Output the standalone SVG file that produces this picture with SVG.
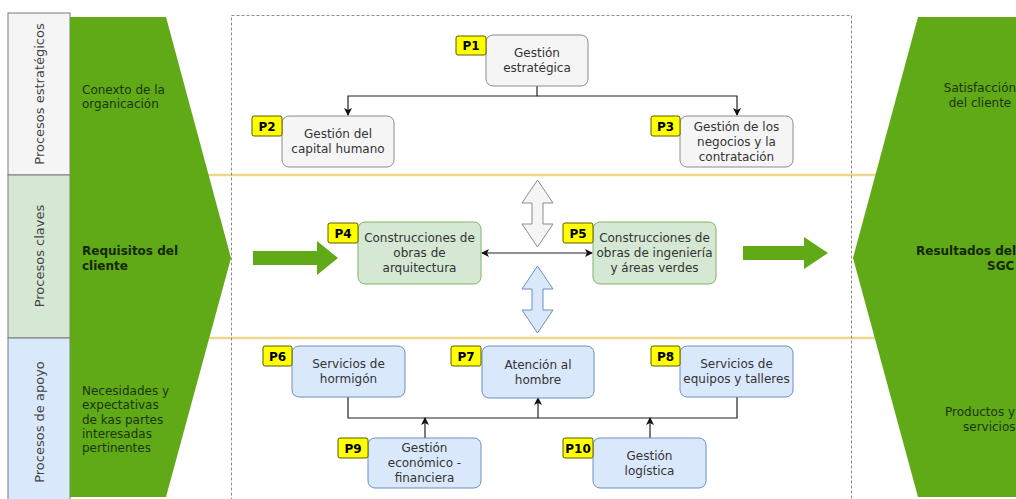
<svg xmlns="http://www.w3.org/2000/svg" width="1016" height="499" viewBox="0 0 1016 499">
<style>
text{font-family:"DejaVu Sans",Verdana,sans-serif;font-size:12px}
.lane{stroke:#7a7a7a;stroke-width:1}
.lanet{font-size:13px;fill:#444;text-anchor:middle}
.gt{fill:#1c3508}
.gtb{fill:#142805;font-weight:bold}
.box{stroke-width:1}
.grey{fill:#f5f5f5;stroke:#8c8c8c}
.green{fill:#d5e8d4;stroke:#82b366}
.blue{fill:#dae8fc;stroke:#6c8ebf}
.bt{fill:#333;text-anchor:middle}
.badge{fill:#ffff00;stroke:#5c5c00;stroke-width:1}
.badget{font-weight:bold;fill:#000;text-anchor:middle}
.conn{fill:none;stroke:#222;stroke-width:1.2}
.ylw{stroke:#eed68a;stroke-width:2.5}
</style>
<defs>
<marker id="ah" markerWidth="8" markerHeight="8" refX="7" refY="4" orient="auto" markerUnits="userSpaceOnUse">
<path d="M0,0 L8,4 L0,8 L2,4 Z" fill="#111"/>
</marker>
<marker id="ahs" markerWidth="8" markerHeight="8" refX="1" refY="4" orient="auto" markerUnits="userSpaceOnUse">
<path d="M8,0 L0,4 L8,8 L6,4 Z" fill="#111"/>
</marker>
</defs>
<rect width="1016" height="499" fill="#ffffff"/>
<g id="lanes">
<line class="ylw" x1="70" y1="175" x2="1016" y2="175"/>
<line class="ylw" x1="70" y1="338" x2="1016" y2="338"/>
<rect class="lane" x="8" y="13" width="62" height="162" fill="#f5f5f5"/>
<rect class="lane" x="8" y="175" width="62" height="163" fill="#d5e8d4"/>
<rect class="lane" x="8" y="338" width="62" height="162" fill="#dae8fc"/>
<text class="lanet" transform="translate(44,94) rotate(-90)">Procesos estratégicos</text>
<text class="lanet" transform="translate(44,256) rotate(-90)">Procesos claves</text>
<text class="lanet" transform="translate(44,422) rotate(-90)">Procesos de apoyo</text>
</g>
<rect x="231.5" y="15.5" width="620" height="500" fill="none" stroke="#8c8c8c" stroke-width="1" stroke-dasharray="3 2"/>
<g id="left-input">
<polygon points="70,17 166,17 231,258 166,497 70,497" fill="#60a917"/>
<text class="gt" x="82" y="94">Conexto de la</text>
<text class="gt" x="82" y="108">organicación</text>
<text class="gtb" x="82" y="255">Requisitos del</text>
<text class="gtb" x="82" y="270">cliente</text>
<text class="gt" x="82" y="395">Necesidades y</text>
<text class="gt" x="82" y="409">expectativas</text>
<text class="gt" x="82" y="424">de kas partes</text>
<text class="gt" x="82" y="438">interesadas</text>
<text class="gt" x="82" y="452">pertinentes</text>
</g>
<g id="right-output">
<polygon points="918,17 1016,17 1016,497 918,497 853,258" fill="#60a917"/>
<text class="gt" x="980" y="92" text-anchor="middle">Satisfacción</text>
<text class="gt" x="980" y="107" text-anchor="middle">del cliente</text>
<text class="gtb" x="916" y="255">Resultados del</text>
<text class="gtb" x="987" y="270">SGC</text>
<text class="gt" x="945" y="416">Productos y</text>
<text class="gt" x="963" y="431">servicios</text>
</g>
<g id="big-arrows">
<polygon points="253,251 317,251 317,241 338,258 317,275 317,265 253,265" fill="#60a917"/>
<polygon points="743,246 804,246 804,237 828,253 804,269 804,260 743,260" fill="#60a917"/>
<polygon points="537.5,180 553,203 543,203 543,224 553,224 537.5,247 522,224 532,224 532,203 522,203" fill="#f5f5f5" stroke="#8c8c8c" stroke-width="1"/>
<polygon points="537.5,266 553,289 543,289 543,310 553,310 537.5,333 522,310 532,310 532,289 522,289" fill="#dae8fc" stroke="#6c8ebf" stroke-width="1"/>
</g>
<g id="connectors">
<path class="conn" d="M537 86 V96 H348 V115" marker-end="url(#ah)"/>
<path class="conn" d="M537 96 H737 V115" marker-end="url(#ah)"/>
<path class="conn" d="M482 253 H592" marker-start="url(#ahs)" marker-end="url(#ah)"/>
<path class="conn" d="M348 397 V418 H737 V397"/>
<path class="conn" d="M538 418 V398" marker-end="url(#ah)"/>
<path class="conn" d="M425 438 V418" marker-end="url(#ah)"/>
<path class="conn" d="M650 438 V418" marker-end="url(#ah)"/>
</g>
<g id="P1">
<rect class="box grey" x="486" y="35" width="102" height="51" rx="7"/>
<rect class="badge" x="456" y="36" width="30" height="19" rx="2"/>
<text class="badget" x="471" y="50">P1</text>
<text class="bt" x="537" y="57">Gestión</text>
<text class="bt" x="537" y="72">estratégica</text>
</g>
<g id="P2">
<rect class="box grey" x="282" y="116" width="112" height="51" rx="7"/>
<rect class="badge" x="252" y="116" width="30" height="20" rx="2"/>
<text class="badget" x="267" y="131">P2</text>
<text class="bt" x="338" y="138">Gestión del</text>
<text class="bt" x="338" y="153">capital humano</text>
</g>
<g id="P3">
<rect class="box grey" x="680" y="116" width="113" height="51" rx="7"/>
<rect class="badge" x="651" y="116" width="29" height="20" rx="2"/>
<text class="badget" x="665.5" y="131">P3</text>
<text class="bt" x="736.5" y="131">Gestión de los</text>
<text class="bt" x="736.5" y="146">negocios y la</text>
<text class="bt" x="736.5" y="161">contratación</text>
</g>
<g id="P4">
<rect class="box green" x="358" y="222" width="123" height="62" rx="7"/>
<rect class="badge" x="328" y="223" width="30" height="20" rx="2"/>
<text class="badget" x="343" y="238">P4</text>
<text class="bt" x="419.5" y="242">Construcciones de</text>
<text class="bt" x="419.5" y="257">obras de</text>
<text class="bt" x="419.5" y="272">arquitectura</text>
</g>
<g id="P5">
<rect class="box green" x="593" y="222" width="123" height="62" rx="7"/>
<rect class="badge" x="563" y="223" width="30" height="20" rx="2"/>
<text class="badget" x="578" y="238">P5</text>
<text class="bt" x="654.5" y="242">Construcciones de</text>
<text class="bt" x="654.5" y="257">obras de ingeniería</text>
<text class="bt" x="654.5" y="272">y áreas verdes</text>
</g>
<g id="P6">
<rect class="box blue" x="292" y="346" width="113" height="51" rx="7"/>
<rect class="badge" x="263" y="346" width="29" height="20" rx="2"/>
<text class="badget" x="277.5" y="361">P6</text>
<text class="bt" x="348.5" y="368">Servicios de</text>
<text class="bt" x="348.5" y="383">hormigón</text>
</g>
<g id="P7">
<rect class="box blue" x="482" y="346" width="112" height="52" rx="7"/>
<rect class="badge" x="451" y="346" width="30" height="20" rx="2"/>
<text class="badget" x="466" y="361">P7</text>
<text class="bt" x="538" y="369">Atención al</text>
<text class="bt" x="538" y="384">hombre</text>
</g>
<g id="P8">
<rect class="box blue" x="680" y="346" width="113" height="51" rx="7"/>
<rect class="badge" x="651" y="346" width="29" height="20" rx="2"/>
<text class="badget" x="665.5" y="361">P8</text>
<text class="bt" x="736.5" y="368">Servicios de</text>
<text class="bt" x="736.5" y="383">equipos y talleres</text>
</g>
<g id="P9">
<rect class="box blue" x="368" y="438" width="113" height="50" rx="7"/>
<rect class="badge" x="338" y="438" width="30" height="20" rx="2"/>
<text class="badget" x="353" y="453">P9</text>
<text class="bt" x="424.5" y="452">Gestión</text>
<text class="bt" x="424.5" y="467">económico -</text>
<text class="bt" x="424.5" y="482">financiera</text>
</g>
<g id="P10">
<rect class="box blue" x="593" y="438" width="113" height="50" rx="7"/>
<rect class="badge" x="563" y="438" width="30" height="20" rx="2"/>
<text class="badget" x="578" y="453">P10</text>
<text class="bt" x="649.5" y="460">Gestión</text>
<text class="bt" x="649.5" y="475">logística</text>
</g>
</svg>
